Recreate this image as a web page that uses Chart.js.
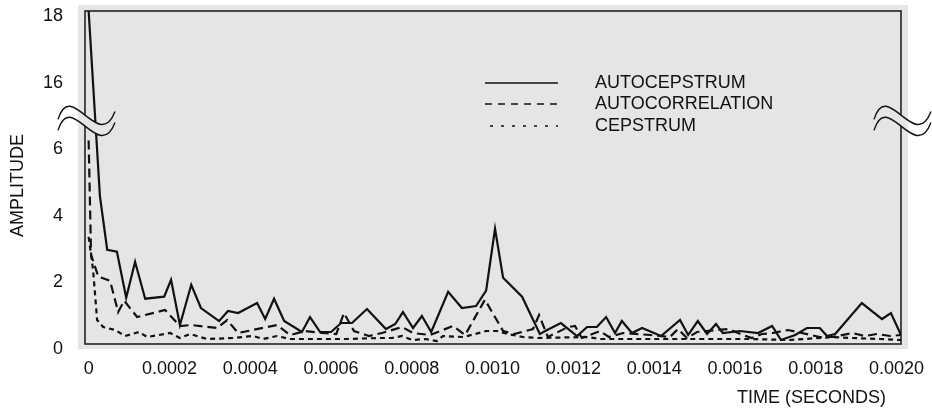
<!DOCTYPE html>
<html>
<head>
<meta charset="utf-8">
<script src="https://cdn.jsdelivr.net/npm/chart.js@4.4.0/dist/chart.umd.min.js"></script>
<style>
  html, body { margin: 0; padding: 0; background: #fff; }
</style>
</head>
<body>
<canvas id="myChart" width="932" height="414"></canvas>
<script>
// times in microseconds, amplitudes
var autocepTime = [0, 28, 46, 70, 93, 115, 140, 187, 204, 226,
    254, 278, 323, 345, 370, 417, 437, 459, 484, 528,
    548, 573, 600, 625, 652, 689, 736, 759, 778, 803,
    825, 848, 890, 924, 959, 984, 1006, 1026, 1073, 1117,
    1135, 1169, 1209, 1234, 1258, 1281, 1303, 1320, 1345, 1370,
    1417, 1464, 1484, 1508, 1531, 1553, 1570, 1612, 1657, 1692,
    1714, 1749, 1778, 1810, 1828, 1848, 1914, 1964, 1986, 2011];
var autocepAmp = [18.0, 4.43, 2.83, 2.77, 1.39, 2.47, 1.36, 1.42, 1.93, 0.57,
    1.78, 1.08, 0.69, 0.99, 0.93, 1.23, 0.75, 1.36, 0.69, 0.36,
    0.81, 0.36, 0.36, 0.63, 0.63, 1.05, 0.45, 0.60, 0.96, 0.48,
    0.84, 0.36, 1.57, 1.08, 1.14, 1.60, 3.46, 1.99, 1.42, 0.30,
    0.42, 0.63, 0.24, 0.51, 0.51, 0.81, 0.33, 0.69, 0.33, 0.48,
    0.24, 0.72, 0.27, 0.69, 0.30, 0.60, 0.33, 0.39, 0.33, 0.54,
    0.12, 0.27, 0.48, 0.48, 0.24, 0.30, 1.23, 0.75, 0.93, 0.27];

var autocorTime = [0, 6, 24, 53, 73, 88, 120, 189, 226, 254,
    318, 343, 370, 466, 499, 536, 578, 613, 632, 657,
    694, 726, 776, 803, 845, 902, 932, 981, 1026, 1053,
    1100, 1115, 1137, 1187, 1204, 1221, 1266, 1288, 1323, 1390,
    1439, 1459, 1481, 1506, 1583, 1620, 1642, 1667, 1694, 1731,
    1766, 1810, 1843, 1890, 1922, 1951, 1984, 2011];
var autocorAmp = [6.11, 2.68, 2.02, 1.90, 0.96, 1.30, 0.81, 1.02, 0.54, 0.57,
    0.48, 0.72, 0.33, 0.57, 0.27, 0.39, 0.33, 0.30, 0.93, 0.39,
    0.24, 0.33, 0.51, 0.33, 0.27, 0.54, 0.27, 1.33, 0.39, 0.30,
    0.45, 0.87, 0.21, 0.51, 0.54, 0.18, 0.39, 0.21, 0.33, 0.27,
    0.21, 0.45, 0.18, 0.36, 0.45, 0.27, 0.18, 0.30, 0.33, 0.42,
    0.33, 0.21, 0.21, 0.33, 0.24, 0.30, 0.24, 0.27];

var cepTime = [0, 11, 21, 36, 66, 90, 125, 145, 202, 226,
    251, 293, 358, 407, 432, 466, 499, 573, 640, 716,
    751, 776, 801, 833, 862, 877, 927, 957, 984, 1011,
    1038, 1075, 1112, 1234, 1266, 1390, 1513, 1637, 1736, 1843,
    1890, 1959, 2011];
var cepAmp = [3.22, 2.23, 0.72, 0.51, 0.42, 0.24, 0.36, 0.21, 0.33, 0.18,
    0.30, 0.15, 0.18, 0.24, 0.15, 0.24, 0.15, 0.15, 0.15, 0.18,
    0.18, 0.24, 0.12, 0.15, 0.09, 0.24, 0.21, 0.30, 0.39, 0.39,
    0.30, 0.21, 0.18, 0.21, 0.15, 0.15, 0.15, 0.15, 0.12, 0.21,
    0.18, 0.15, 0.12];

var seriesNames = ['AUTOCEPSTRUM', 'AUTOCORRELATION', 'CEPSTRUM'];
var xTicks = [0, 200, 400, 600, 800, 1000, 1200, 1400, 1600, 1800, 2000]; // microseconds
var yTicks = [0, 2, 4, 6, 8, 10];
var yTickText = { 0: '0', 2: '2', 4: '4', 6: '6', 8: '16', 10: '18' };

var FONT = '"Liberation Sans", Arial, Helvetica, sans-serif';
var FSIZE = 18;
var INK = '#111';
var PLOT_BG = '#e5e5e5';

// broken axis: 16..18 sits where 8..10 would be
function toPoints(times, amps) {
    return times.map(function (t, i) {
        var a = amps[i];
        return { x: t, y: a > 8 ? a - 8 : a };
    });
}

var dashes = [[], [9, 5], [5, 4]];

var backdrop = {
    id: 'backdrop',
    beforeDraw: function (chart) {
        var c = chart.ctx, a = chart.chartArea;
        c.save();
        c.fillStyle = '#fff';
        c.fillRect(0, 0, chart.width, chart.height);
        c.fillStyle = PLOT_BG;
        c.fillRect(a.left - 7, a.top - 6, a.right - a.left + 14, a.bottom - a.top + 11);
        c.restore();
    },
    beforeDatasetsDraw: function (chart) {
        var c = chart.ctx, a = chart.chartArea;
        c.save();
        c.strokeStyle = '#222';
        c.lineWidth = 1.6;
        c.strokeRect(a.left, a.top, a.right - a.left, a.bottom - a.top);
        c.restore();
    }
};

function wavePath(c, cx, cy) {
    c.moveTo(cx - 27, cy + 4);
    c.bezierCurveTo(cx - 14, cy - 38, cx + 14, cy + 38, cx + 30, cy - 4);
}

function gapPath(c, cx, up, lo) {
    c.beginPath();
    c.moveTo(cx - 27, up + 4);
    c.bezierCurveTo(cx - 14, up - 38, cx + 14, up + 38, cx + 30, up - 4);
    c.lineTo(cx + 30, lo - 4);
    c.bezierCurveTo(cx + 14, lo + 38, cx - 14, lo - 38, cx - 27, lo + 4);
    c.closePath();
}

var breaks = {
    id: 'breaks',
    afterDatasetsDraw: function (chart) {
        var c = chart.ctx, a = chart.chartArea;
        var cy = chart.scales.y.getPixelForValue(6.7);
        var gap = 11;
        [a.left, a.right].forEach(function (cx) {
            var up = cy - gap / 2, lo = cy + gap / 2;
            c.save();
            gapPath(c, cx, up, lo);
            c.fillStyle = '#fff';
            c.fill();
            c.save();
            c.beginPath();
            c.rect(a.left - 7, a.top - 6, a.right - a.left + 14, a.bottom - a.top + 11);
            c.clip();
            gapPath(c, cx, up, lo);
            c.fillStyle = PLOT_BG;
            c.fill();
            c.restore();
            c.strokeStyle = INK;
            c.lineWidth = 1.4;
            c.beginPath();
            wavePath(c, cx, up);
            c.stroke();
            c.beginPath();
            wavePath(c, cx, lo);
            c.stroke();
            c.restore();
        });
    }
};

var legendAndTitles = {
    id: 'legendAndTitles',
    afterDraw: function (chart) {
        var c = chart.ctx, a = chart.chartArea;
        c.save();
        c.font = FSIZE + 'px ' + FONT;
        c.fillStyle = INK;
        c.strokeStyle = INK;
        c.textBaseline = 'middle';
        var lx0 = a.left + 400, lx1 = a.left + 473, tx = a.left + 510;
        var rows = [a.top + 72, a.top + 93, a.top + 115];
        var legDash = [[], [7, 6], [3, 8]];
        seriesNames.forEach(function (name, i) {
            c.lineWidth = 1.3;
            c.setLineDash(legDash[i]);
            c.beginPath();
            c.moveTo(i === 2 ? lx0 + 5 : lx0, rows[i]);
            c.lineTo(lx1, rows[i]);
            c.stroke();
            c.setLineDash([]);
            c.textAlign = 'left';
            c.fillText(name, tx, rows[i]);
        });
        // axis titles
        c.textAlign = 'right';
        c.fillText('TIME (SECONDS)', a.right - 15, a.bottom + 54);
        c.translate(18, (a.top + a.bottom) / 2 + 8);
        c.rotate(-Math.PI / 2);
        c.textAlign = 'center';
        c.fillText('AMPLITUDE', 0, 0);
        c.restore();
    }
};

var ctx = document.getElementById('myChart').getContext('2d');

var myChart = new Chart(ctx, {
    type: 'line',
    data: {
        datasets: [
            { label: seriesNames[0], data: toPoints(autocepTime, autocepAmp) },
            { label: seriesNames[1], data: toPoints(autocorTime, autocorAmp) },
            { label: seriesNames[2], data: toPoints(cepTime, cepAmp) }
        ].map(function (d, i) {
            d.borderColor = INK;
            d.borderWidth = 2.2;
            d.borderDash = dashes[i];
            d.pointRadius = 0;
            d.tension = 0;
            d.fill = false;
            return d;
        })
    },
    options: {
        responsive: false,
        animation: false,
        devicePixelRatio: 1,
        layout: { padding: { left: 0, right: 31, top: 11, bottom: 0 } },
        plugins: {
            legend: { display: false },
            tooltip: { enabled: false }
        },
        scales: {
            x: {
                type: 'linear',
                min: -9,
                max: 2011,
                grid: { display: false, drawTicks: false },
                border: { display: false },
                ticks: {
                    autoSkip: false,
                    maxRotation: 0,
                    padding: 14,
                    color: INK,
                    font: { family: FONT, size: FSIZE },
                    callback: function (v) { return v === 0 ? '0' : (v / 1e6).toFixed(4); }
                },
                afterBuildTicks: function (s) {
                    s.ticks = xTicks.map(function (v) { return { value: v }; });
                },
                afterFit: function (s) {
                    s.height = 70;
                    s.paddingLeft = 0;
                    s.paddingRight = 0;
                }
            },
            y: {
                min: 0,
                max: 10,
                grid: { display: false, drawTicks: false },
                border: { display: false },
                ticks: {
                    padding: 22,
                    labelOffset: 5,
                    color: INK,
                    font: { family: FONT, size: FSIZE },
                    callback: function (v) { return yTickText[v]; }
                },
                afterBuildTicks: function (s) {
                    s.ticks = yTicks.map(function (v) { return { value: v }; });
                },
                afterFit: function (s) {
                    s.width = 85;
                    s.paddingTop = 0;
                    s.paddingBottom = 0;
                }
            }
        }
    },
    plugins: [backdrop, breaks, legendAndTitles]
});
</script>
</body>
</html>
